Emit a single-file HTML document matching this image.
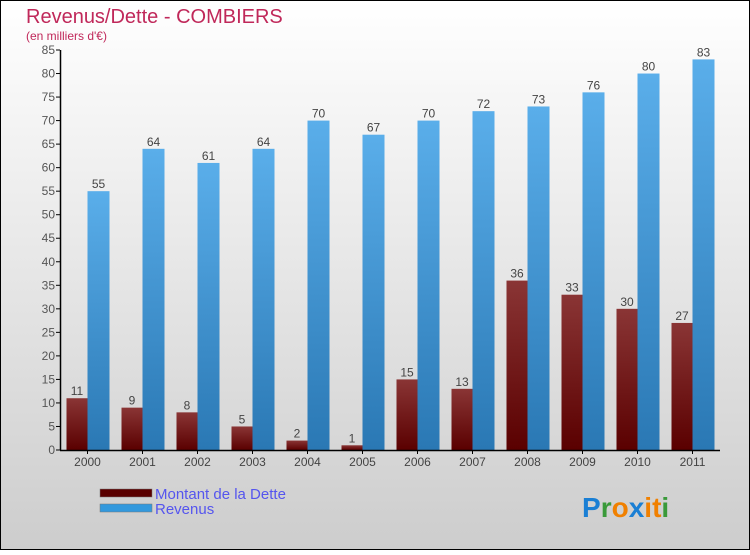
<!DOCTYPE html>
<html><head><meta charset="utf-8"><style>
html,body{margin:0;padding:0}
body{width:750px;height:550px;overflow:hidden;font-family:"Liberation Sans",sans-serif}
</style></head><body>
<svg id="chart" width="750" height="550" xmlns="http://www.w3.org/2000/svg">
<defs>
<linearGradient id="bg" x1="0" y1="0" x2="0" y2="1"><stop offset="0" stop-color="#ffffff"/><stop offset="1" stop-color="#cdcdcd"/></linearGradient>
<linearGradient id="gd" x1="0" y1="0" x2="0" y2="1"><stop offset="0" stop-color="#8a3535"/><stop offset="1" stop-color="#5a0000"/></linearGradient>
<linearGradient id="gr" x1="0" y1="0" x2="0" y2="1"><stop offset="0" stop-color="#5aaeea"/><stop offset="1" stop-color="#2a78b4"/></linearGradient>
</defs>
<rect x="0.5" y="0.5" width="749" height="549" fill="url(#bg)" stroke="#000"/>
<text x="26" y="23" font-size="20" fill="#c0285a">Revenus/Dette - COMBIERS</text>
<text x="26" y="40" font-size="12" fill="#c0285a">(en milliers d'€)</text>
<g id="bars"></g><g id="axes"></g>
<g>
<rect x="100" y="489" width="52" height="8" fill="#5a0000" stroke="#777" stroke-width="0.5"/>
<text x="155" y="499" font-size="15" fill="#5555ee">Montant de la Dette</text>
<rect x="100" y="504" width="52" height="8" fill="#3399dd" stroke="#777" stroke-width="0.5"/>
<text x="155" y="514" font-size="15" fill="#5555ee">Revenus</text>
</g>
<g font-size="28" font-weight="bold">
<text x="582" y="517"><tspan fill="#1a7fd4">P</tspan><tspan fill="#3a9a3a">r</tspan><tspan fill="#f08000">o</tspan><tspan fill="#1a7fd4">x</tspan><tspan fill="#f08000">i</tspan><tspan fill="#f08000">t</tspan><tspan fill="#3a9a3a">i</tspan></text>
</g>
</svg>
<script>
const years=["2000","2001","2002","2003","2004","2005","2006","2007","2008","2009","2010","2011"];
const dette=[11,9,8,5,2,1,15,13,36,33,30,27];
const revenus=[55,64,61,64,70,67,70,72,73,76,80,83];
const yTicks=[0,5,10,15,20,25,30,35,40,45,50,55,60,65,70,75,80,85];
const NS="http://www.w3.org/2000/svg";
const x0=60,gw=55,y0=450,yTop=50,yMax=85;
const yS=v=>y0-(v/yMax)*(y0-yTop);
const xC=i=>x0+gw*i+27.5;
function mk(tag,attrs,parent,txt){const e=document.createElementNS(NS,tag);for(const k in attrs)e.setAttribute(k,attrs[k]);if(txt!==undefined)e.textContent=txt;document.getElementById(parent).appendChild(e);return e;}
yTicks.forEach(t=>{
 const tk=mk('line',{x1:x0-4,x2:x0,y1:yS(t),y2:yS(t),stroke:'#000'},'axes');
 
 
 const l=mk('text',{x:x0-5,y:yS(t)+4,'font-size':12,fill:'#555','text-anchor':'end'},'axes',t);
 
 
});
years.forEach((y,i)=>{
 const c=xC(i);
 const bd=mk('rect',{x:c-21,y:yS(dette[i]),width:21,height:y0-yS(dette[i]),fill:'url(#gd)'},'bars');
 
 
 const br=mk('rect',{x:c,y:yS(revenus[i]),width:22,height:y0-yS(revenus[i]),fill:'url(#gr)'},'bars');
 
 
 const ld=mk('text',{x:c-10.5,y:yS(dette[i])-3,'font-size':12,fill:'#444','text-anchor':'middle'},'bars',dette[i]);
 
 
 const lr=mk('text',{x:c+11,y:yS(revenus[i])-3,'font-size':12,fill:'#444','text-anchor':'middle'},'bars',revenus[i]);
 
 
 const tk=mk('line',{x1:c,x2:c,y1:y0,y2:y0+4,stroke:'#000'},'axes');
 
 
 const xl=mk('text',{x:c,y:y0+16,'font-size':12,fill:'#444','text-anchor':'middle'},'axes',y);
 
 
});
const ya=mk('line',{x1:x0+0.5,x2:x0+0.5,y1:yTop,y2:y0,stroke:'#000','stroke-width':1.5},'axes');


const xa=mk('line',{x1:x0,x2:x0+gw*12,y1:y0+0.5,y2:y0+0.5,stroke:'#000','stroke-width':1.5},'axes');


</script>
</body></html>
